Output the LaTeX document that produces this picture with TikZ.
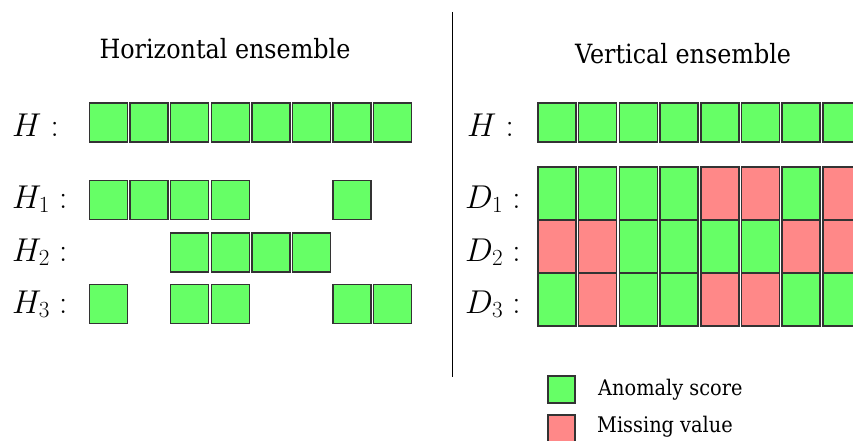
\RequirePackage{fix-cm}
\documentclass[tikz,border=0pt]{standalone}
\usepackage[no-math]{fontspec}
\setmainfont[FakeStretch=0.9]{DejaVu Serif}
\definecolor{scoregreen}{RGB}{102,255,102}
\definecolor{missred}{RGB}{255,136,136}
\definecolor{cellline}{RGB}{51,51,51}
\begin{document}
\begin{tikzpicture}[x=1pt, y=-1pt,
  cell/.style={draw=cellline, line width=1.5pt, inner sep=0pt, minimum width=38pt, minimum height=39pt},
  ok/.style={cell, fill=scoregreen},
  tall/.style={minimum height=53pt},
  miss/.style={cell, fill=missred},
  lab/.style={anchor=base west, inner sep=0pt, font=\fontsize{33}{40}\selectfont},
  head/.style={anchor=base, inner sep=0pt, font=\fontsize{26.5}{32}\selectfont},
  key/.style={anchor=base west, inner sep=0pt, font=\fontsize{21.5}{26}\selectfont}]
\useasboundingbox (0,0) rectangle (853,441);
% titles and divider
\node[head] (T_left) at (225,59) {Horizontal ensemble};
\node[head] (T_right) at (683,64) {Vertical ensemble};
\coordinate (Sep_top) at (452,12);
\coordinate (Sep_bot) at (452,377);
\draw[line width=1pt] (Sep_top) -- (Sep_bot);
% horizontal ensemble
\node[lab] (L_H) at (12,136) {$H:$};
\node[ok] (L_0_0) at (108.5,122.5) {};
\node[ok] (L_0_1) at (149.1,122.5) {};
\node[ok] (L_0_2) at (189.7,122.5) {};
\node[ok] (L_0_3) at (230.3,122.5) {};
\node[ok] (L_0_4) at (270.9,122.5) {};
\node[ok] (L_0_5) at (311.5,122.5) {};
\node[ok] (L_0_6) at (352.1,122.5) {};
\node[ok] (L_0_7) at (392.7,122.5) {};
\node[lab] (L_H1) at (12,208) {$H_1:$};
\node[ok] (L_1_0) at (108.5,200) {};
\node[ok] (L_1_1) at (149.1,200) {};
\node[ok] (L_1_2) at (189.7,200) {};
\node[ok] (L_1_3) at (230.3,200) {};
\node[ok] (L_1_6) at (352.1,200) {};
\node[lab] (L_H2) at (12,261) {$H_2:$};
\node[ok] (L_2_2) at (189.7,252.5) {};
\node[ok] (L_2_3) at (230.3,252.5) {};
\node[ok] (L_2_4) at (270.9,252.5) {};
\node[ok] (L_2_5) at (311.5,252.5) {};
\node[lab] (L_H3) at (12,313) {$H_3:$};
\node[ok] (L_3_0) at (108.5,304) {};
\node[ok] (L_3_2) at (189.7,304) {};
\node[ok] (L_3_3) at (230.3,304) {};
\node[ok] (L_3_6) at (352.1,304) {};
\node[ok] (L_3_7) at (392.7,304) {};
% vertical ensemble
\node[lab] (R_H) at (467,136) {$H:$};
\node[ok] (R_0_0) at (557,122.5) {};
\node[ok] (R_0_1) at (597.7,122.5) {};
\node[ok] (R_0_2) at (638.4,122.5) {};
\node[ok] (R_0_3) at (679.1,122.5) {};
\node[ok] (R_0_4) at (719.8,122.5) {};
\node[ok] (R_0_5) at (760.5,122.5) {};
\node[ok] (R_0_6) at (801.2,122.5) {};
\node[ok] (R_0_7) at (841.9,122.5) {};
\node[lab] (R_D1) at (465,208) {$D_1:$};
\node[ok, tall] (R_1_0) at (557,193.5) {};
\node[ok, tall] (R_1_1) at (597.7,193.5) {};
\node[ok, tall] (R_1_2) at (638.4,193.5) {};
\node[ok, tall] (R_1_3) at (679.1,193.5) {};
\node[miss, tall] (R_1_4) at (719.8,193.5) {};
\node[miss, tall] (R_1_5) at (760.5,193.5) {};
\node[ok, tall] (R_1_6) at (801.2,193.5) {};
\node[miss, tall] (R_1_7) at (841.9,193.5) {};
\node[lab] (R_D2) at (465,261) {$D_2:$};
\node[miss, tall] (R_2_0) at (557,246.5) {};
\node[miss, tall] (R_2_1) at (597.7,246.5) {};
\node[ok, tall] (R_2_2) at (638.4,246.5) {};
\node[ok, tall] (R_2_3) at (679.1,246.5) {};
\node[ok, tall] (R_2_4) at (719.8,246.5) {};
\node[ok, tall] (R_2_5) at (760.5,246.5) {};
\node[miss, tall] (R_2_6) at (801.2,246.5) {};
\node[miss, tall] (R_2_7) at (841.9,246.5) {};
\node[lab] (R_D3) at (465,313) {$D_3:$};
\node[ok, tall] (R_3_0) at (557,299.5) {};
\node[miss, tall] (R_3_1) at (597.7,299.5) {};
\node[ok, tall] (R_3_2) at (638.4,299.5) {};
\node[ok, tall] (R_3_3) at (679.1,299.5) {};
\node[miss, tall] (R_3_4) at (719.8,299.5) {};
\node[miss, tall] (R_3_5) at (760.5,299.5) {};
\node[ok, tall] (R_3_6) at (801.2,299.5) {};
\node[ok, tall] (R_3_7) at (841.9,299.5) {};
% legend
\node[ok, minimum width=27pt, minimum height=27pt] (K_ok) at (561.5,389.5) {};
\node[key] (K_ok_text) at (598,395) {Anomaly score};
\node[miss, minimum width=27pt, minimum height=27pt] (K_miss) at (561.5,428.5) {};
\node[key] (K_miss_text) at (597,432) {Missing value};
\end{tikzpicture}
\end{document}
